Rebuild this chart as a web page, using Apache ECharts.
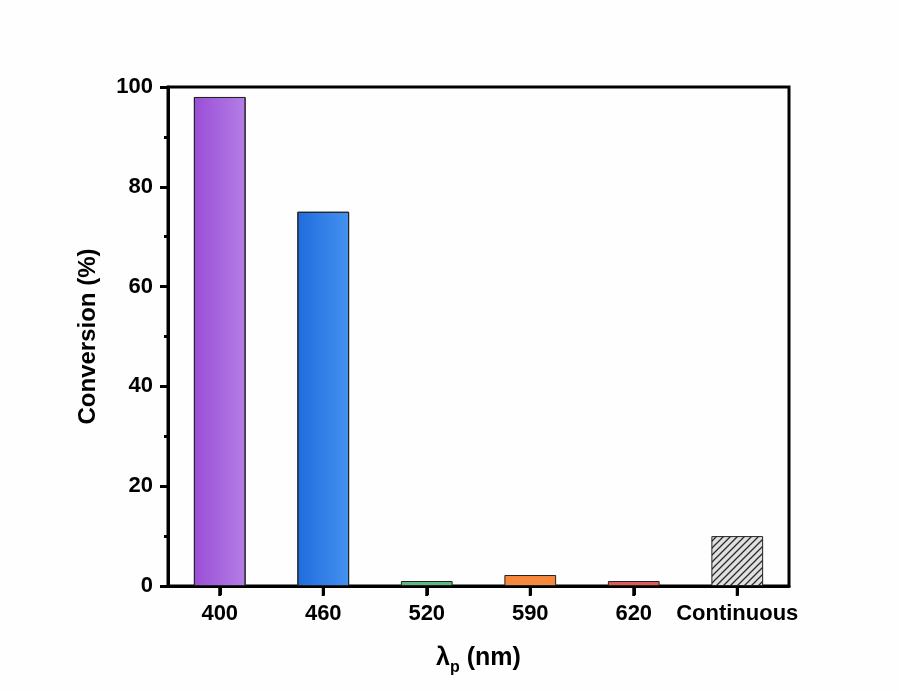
<!DOCTYPE html>
<html><head><meta charset="utf-8">
<script src="https://cdn.jsdelivr.net/npm/echarts@6/dist/echarts.min.js"></script>
<style>html,body{margin:0;padding:0;background:#fff;}#c{width:899px;height:691px;}</style>
</head><body><div id="c"></div>
<script>
const categories = ['400', '460', '520', '590', '620', 'Continuous'];
const conversion = [98, 75, 1, 2.2, 1, 10];
const yTicks = [0, 20, 40, 60, 80, 100];

function grad(a, b) {
  return new echarts.graphic.LinearGradient(0, 0, 1, 0, [{offset: 0, color: a}, {offset: 1, color: b}]);
}
function hatch() {
  const c = document.createElement('canvas');
  c.width = 7; c.height = 7;
  const g = c.getContext('2d');
  g.fillStyle = '#e0e0e0'; g.fillRect(0, 0, 7, 7);
  g.strokeStyle = '#2a2a2a'; g.lineWidth = 1.3;
  g.beginPath();
  g.moveTo(-1, 8); g.lineTo(8, -1);
  g.moveTo(-1, 1); g.lineTo(1, -1);
  g.moveTo(6, 8); g.lineTo(8, 6);
  g.stroke();
  return {image: c, repeat: 'repeat'};
}
const fills = [
  grad('#9a4ed6', '#b47ee6'),
  grad('#1f6cde', '#4492f0'),
  '#5dba7c',
  '#f5883a',
  '#e05a5a',
  hatch()
];
const FONT = 'Liberation Sans, Arial, sans-serif';

const chart = echarts.init(document.getElementById('c'), null, {renderer: 'canvas'});
chart.setOption({
  backgroundColor: '#fefefe',
  animation: false,
  grid: {left: 168, right: 110, top: 87, bottom: 105, show: true, borderColor: '#000', borderWidth: 3, backgroundColor: 'transparent'},
  xAxis: {
    type: 'category', data: categories, boundaryGap: true,
    name: '{l|λ}{s|p}{l| (nm)}', nameLocation: 'middle', nameGap: 60,
    nameTextStyle: {rich: {
      l: {fontFamily: FONT, fontWeight: 'bold', fontSize: 25, color: '#000'},
      s: {fontFamily: FONT, fontWeight: 'bold', fontSize: 16, color: '#000', verticalAlign: 'bottom', padding: [0, 0, -5, 0]}
    }},
    axisLine: {show: true, onZero: false, lineStyle: {color: '#000', width: 3}},
    axisTick: {show: true, inside: false, alignWithLabel: true, interval: 0, length: 9, lineStyle: {color: '#000', width: 3}},
    axisLabel: {show: true, interval: 0, fontFamily: FONT, fontWeight: 'bold', fontSize: 22, color: '#000', margin: 17}
  },
  yAxis: {
    type: 'value', min: yTicks[0], max: yTicks[yTicks.length - 1], interval: 20,
    name: 'Conversion (%)', nameLocation: 'middle', nameGap: 68,
    nameTextStyle: {fontFamily: FONT, fontWeight: 'bold', fontSize: 24, color: '#000'},
    axisLine: {show: true, onZero: false, lineStyle: {color: '#000', width: 3}},
    axisTick: {show: true, length: 8, lineStyle: {color: '#000', width: 3}},
    minorTick: {show: true, splitNumber: 2, length: 4, lineStyle: {color: '#000', width: 3}},
    splitLine: {show: false},
    axisLabel: {fontFamily: FONT, fontWeight: 'bold', fontSize: 22, color: '#000', margin: 15}
  },
  series: [{
    type: 'bar', barWidth: '50%',
    data: conversion.map((v, i) => ({value: v, itemStyle: {color: fills[i]}})),
    itemStyle: {borderColor: '#222', borderWidth: 1}
  }]
});

// category tick marks placed through the library's own scales
const tickMarks = [];
categories.forEach(function (c, i) {
  const p = chart.convertToPixel({gridIndex: 0}, [i, yTicks[0]]);
  if (p && isFinite(p[0]) && isFinite(p[1])) {
    tickMarks.push({
      type: 'rect', z: 100, silent: true,
      shape: {x: p[0] - 1.5, y: p[1], width: 3, height: 10},
      style: {fill: '#000'}
    });
  }
});
chart.setOption({graphic: {elements: tickMarks}});
</script></body></html>
